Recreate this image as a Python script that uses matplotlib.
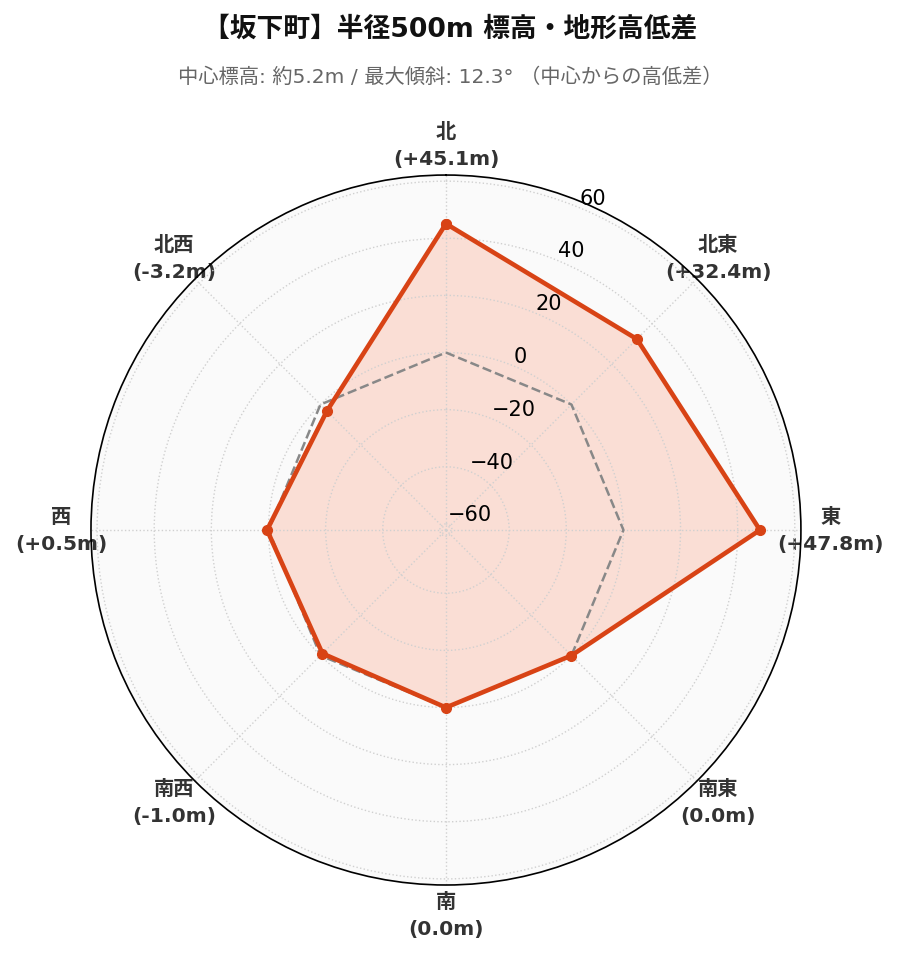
import numpy as np
import matplotlib.pyplot as plt

# =========================
# DATA
# =========================

directions = ['北', '北東', '東', '南東', '南', '南西', '西', '北西']

diffs = [45.1, 32.4, 47.8, 0.0, 0.0, -1.0, 0.5, -3.2]

r_ticks = [-60, -40, -20, 0, 20, 40, 60]

title = '【坂下町】半径500m 標高・地形高低差'

subtitle = '中心標高: 約5.2m / 最大傾斜: 12.3° （中心からの高低差）'

# =========================
# FONTS
# =========================

plt.rcParams['font.family'] = ['DejaVu Sans', 'Noto Sans CJK JP']

# =========================
# PLOT
# =========================

n = len(directions)

angles = np.linspace(0, 2 * np.pi, n, endpoint=False)

angles_closed = np.append(angles, angles[0])

values_closed = np.append(diffs, diffs[0])

zero_closed = np.zeros(n + 1)

lim = max(abs(v) for v in diffs) * 1.3

fig = plt.figure(
    figsize=(9, 9.62),
    dpi=100
)

ax = fig.add_axes(
    [0.101, 0.079, 0.789, 0.738],
    projection='polar'
)

ax.set_theta_zero_location('N')

ax.set_theta_direction(-1)

ax.set_facecolor('#fafafa')

ax.set_ylim(-lim, lim)

ax.set_yticks(r_ticks)

ax.tick_params(axis='y', labelsize=15)

ax.plot(
    angles_closed,
    zero_closed,
    color='#888888',
    linestyle='--',
    linewidth=1.8
)

ax.fill(
    angles_closed,
    values_closed,
    color='#ff5722',
    alpha=0.17,
    linewidth=0
)

ax.plot(
    angles_closed,
    values_closed,
    color='#d84315',
    linewidth=3.3,
    marker='o',
    markersize=7
)

labels = [
    f'{d}\n({v:+.1f}m)' if v != 0 else f'{d}\n(0.0m)'
    for d, v in zip(directions, diffs)
]

ax.set_xticks(angles)

ax.set_xticklabels(
    labels,
    fontsize=14.6,
    fontweight='bold',
    color='#333333',
    linespacing=1.55
)

ax.tick_params(axis='x', pad=11)

ax.grid(
    color='#d0d0d0',
    linestyle=':',
    linewidth=1
)

ax.spines['polar'].set_color('black')

ax.spines['polar'].set_linewidth(1.2)

fig.text(
    0.5, 0.969,
    title,
    ha='center',
    va='center',
    fontsize=19.3,
    fontweight='bold',
    color='#111111'
)

fig.text(
    0.5, 0.920,
    subtitle,
    ha='center',
    va='center',
    fontsize=14.6,
    color='#666666'
)

fig.savefig('out.png', dpi=100)
